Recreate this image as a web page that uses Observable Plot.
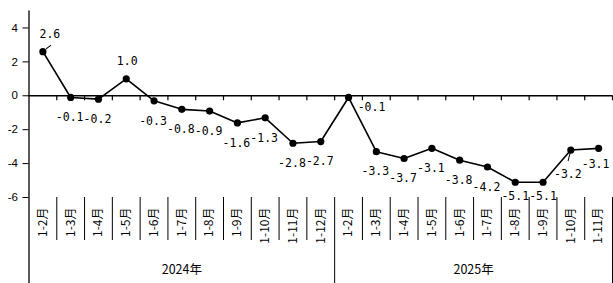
<!DOCTYPE html>
<html><head><meta charset="utf-8">
<script src="https://cdn.jsdelivr.net/npm/d3@7"></script>
<script src="https://cdn.jsdelivr.net/npm/@observablehq/plot@0.6"></script>
<style>body{margin:0;background:#fff}</style>
</head><body><div id="chart"></div>
<script>
const months2024 = ["1-2月","1-3月","1-4月","1-5月","1-6月","1-7月","1-8月","1-9月","1-10月","1-11月","1-12月"];
const values2024 = [2.6,-0.1,-0.2,1.0,-0.3,-0.8,-0.9,-1.6,-1.3,-2.8,-2.7];
const months2025 = ["1-2月","1-3月","1-4月","1-5月","1-6月","1-7月","1-8月","1-9月","1-10月","1-11月"];
const values2025 = [-0.1,-3.3,-3.7,-3.1,-3.8,-4.2,-5.1,-5.1,-3.2,-3.1];
const years = ["2024年","2025年"];
const yTicks = [-6,-4,-2,0,2,4];

const data = [
  ...months2024.map((m,k)=>({year: years[0], month: m, value: values2024[k]})),
  ...months2025.map((m,k)=>({year: years[1], month: m, value: values2025[k]}))
].map((d,i)=>({...d, i}));

const yearData = years.map(y => {
  const g = data.filter(d => d.year === y);
  return {year: y, start: g[0].i - 0.5, end: g[g.length-1].i + 0.5};
});
const allBounds = data.map(d => d.i + 0.5);
const yearEnds = yearData.map(d => d.end);
const shortBounds = allBounds.filter(b => !yearEnds.includes(b));

const n = data.length;
const fmt = d => d.value.toFixed(1);
const first2025 = d => d.year === years[1] && d.i === yearData[1].start + 0.5;
const last = d => d.i === n - 1;
const secondLast = d => d.i === n - 2;
const isSpecial = d => d.value > 0 || first2025(d) || d.value <= -5 || last(d) || secondLast(d);

const labelFont = {fontFamily: "DejaVu Sans Mono, Liberation Mono, monospace", fontSize: 11.5, fill: "black"};
const leaderShape = {draw(context, l) { context.moveTo(0, 0); context.lineTo(0, -l); }};

const chart = Plot.plot({
  width: 613,
  height: 283,
  marginTop: 10.5,
  marginBottom: 86,
  marginLeft: 28.5,
  marginRight: 1,
  style: {fontFamily: "Liberation Sans, Arial, sans-serif", background: "white", color: "black"},
  x: {type: "linear", domain: [-0.5, n - 0.5], axis: null},
  y: {domain: [-6, 5], axis: null},
  marks: [
    Plot.axisY(yTicks, {anchor: "left", label: null, tickSize: 6, tickPadding: 5, tickFormat: d => String(d), fontSize: 11.5}),
    // y axis line extending to the bottom
    Plot.ruleX([-0.5], {insetBottom: -86, stroke: "black", strokeWidth: 1.3}),
    // zero line (category axis)
    Plot.ruleY([0], {stroke: "black", strokeWidth: 1.3}),
    // tick marks on zero line
    Plot.ruleX(allBounds, {y1: 0, y2: 0, insetBottom: -5, stroke: "black", strokeWidth: 1.2}),
    // short separators between month labels
    Plot.ruleX(shortBounds, {y1: -6, y2: -6, insetBottom: -43, stroke: "black", strokeWidth: 1}),
    // year separators
    Plot.ruleX(yearEnds, {y1: -6, y2: -6, insetBottom: -86, stroke: "black", strokeWidth: 1}),
    // month labels
    Plot.text(data, {x: "i", y: -6, dy: 10, text: "month", rotate: -90, textAnchor: "end", lineAnchor: "middle",
      fontFamily: "Noto Sans CJK SC, sans-serif", fontSize: 12, fill: "black"}),
    // year labels
    Plot.text(yearData, {x: d => (d.start + d.end) / 2, y: -6, dy: 72, text: "year",
      fontFamily: "Noto Sans CJK SC, sans-serif", fontSize: 12.5, fill: "black"}),
    // series
    Plot.line(data, {x: "i", y: "value", stroke: "black", strokeWidth: 1.6}),
    Plot.dot(data, {x: "i", y: "value", r: 3.6, fill: "black", stroke: "none"}),
    // label leader lines
    Plot.vector(data.filter(d => d.i === 0), {x: "i", y: "value", length: 5.5, rotate: 52, anchor: "start",
      dx: 3.5, dy: -3, shape: leaderShape, stroke: "black", strokeWidth: 1}),
    Plot.vector(data.filter(secondLast), {x: "i", y: "value", length: 11, rotate: 194, anchor: "start",
      shape: leaderShape, stroke: "black", strokeWidth: 1}),
    // data labels
    Plot.text(data.filter(d => !isSpecial(d)), {x: "i", y: "value", text: fmt, dx: -1, dy: 20, ...labelFont}),
    Plot.text(data.filter(d => d.value > 0 && d.i === 0), {x: "i", y: "value", text: fmt, dx: 7, dy: -17, ...labelFont}),
    Plot.text(data.filter(d => d.value > 0 && d.i !== 0), {x: "i", y: "value", text: fmt, dx: 1, dy: -18, ...labelFont}),
    Plot.text(data.filter(first2025), {x: "i", y: "value", text: fmt, dx: 23, dy: 10, ...labelFont}),
    Plot.text(data.filter(d => d.value <= -5), {x: "i", y: "value", text: fmt, dx: 0, dy: 14, ...labelFont}),
    Plot.text(data.filter(secondLast), {x: "i", y: "value", text: fmt, dx: -3, dy: 24, ...labelFont}),
    Plot.text(data.filter(last), {x: "i", y: "value", text: fmt, dx: -3, dy: 16, ...labelFont})
  ]
});
document.getElementById("chart").append(chart);
</script>
</body></html>
